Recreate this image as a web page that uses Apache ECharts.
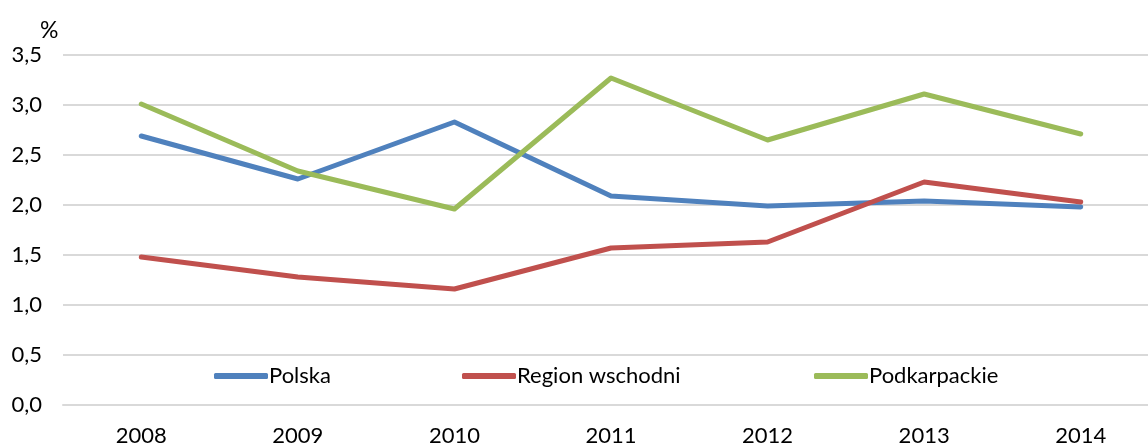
<!DOCTYPE html>
<html>
<head>
<meta charset="utf-8">
<script src="https://cdn.jsdelivr.net/npm/echarts@6/dist/echarts.min.js"></script>
<style>
  html, body { margin: 0; padding: 0; background: #fff; }
</style>
</head>
<body>
<div id="chart" style="width:1148px; height:444px"></div>
<script>
    // data
    var years = ['2008', '2009', '2010', '2011', '2012', '2013', '2014'];
    var polska = [2.69, 2.26, 2.83, 2.09, 1.99, 2.04, 1.98];
    var regionWschodni = [1.48, 1.28, 1.16, 1.57, 1.63, 2.23, 2.03];
    var podkarpackie = [3.01, 2.34, 1.96, 3.27, 2.65, 3.11, 2.71];

    var font = 'Lato';
    var gridColor = '#d9d9d9';

    var myChart = echarts.init(document.getElementById('chart'));

    function legendAt(name, left) {
        return {
            data: [name],
            left: left,
            top: 365,
            itemWidth: 54,
            itemHeight: 6,
            itemGap: 0,
            icon: 'roundRect',
            padding: 0,
            textStyle: { fontFamily: font, fontSize: 22, color: '#000', padding: [0, 0, 0, -4] }
        };
    }

    function lineSeries(name, values, color) {
        return {
            name: name,
            type: 'line',
            symbol: 'none',
            data: values,
            itemStyle: { color: color },
            lineStyle: { color: color, width: 5, cap: 'round', join: 'round' }
        };
    }

    var option = {
        animation: false,
        title: {
            text: '%',
            left: 35,
            top: 14,
            textStyle: { fontFamily: font, fontSize: 23, fontWeight: 'normal', color: '#000' }
        },
        legend: [
            legendAt('Polska', 214),
            legendAt('Region wschodni', 462),
            legendAt('Podkarpackie', 814)
        ],
        grid: {
            left: 63,
            top: 55,
            width: 1096,
            height: 350,
            outerBoundsMode: 'none',
            containLabel: false
        },
        xAxis: {
            type: 'category',
            boundaryGap: true,
            data: years,
            axisTick: { show: false },
            axisLine: { lineStyle: { color: gridColor, width: 2 } },
            axisLabel: { fontFamily: font, fontSize: 22, color: '#000', margin: 20 }
        },
        yAxis: {
            type: 'value',
            min: 0,
            max: 3.5,
            interval: 0.5,
            axisLine: { show: false },
            axisTick: { show: false },
            splitLine: { lineStyle: { color: gridColor, width: 2 } },
            axisLabel: {
                fontFamily: font,
                fontSize: 22,
                color: '#000',
                margin: 21,
                formatter: function (v) { return v.toFixed(1).replace('.', ','); }
            }
        },
        series: [
            lineSeries('Polska', polska, '#4f81bd'),
            lineSeries('Region wschodni', regionWschodni, '#c0504d'),
            lineSeries('Podkarpackie', podkarpackie, '#9bbb59')
        ]
    };

    myChart.setOption(option, true);
</script>
</body>
</html>
